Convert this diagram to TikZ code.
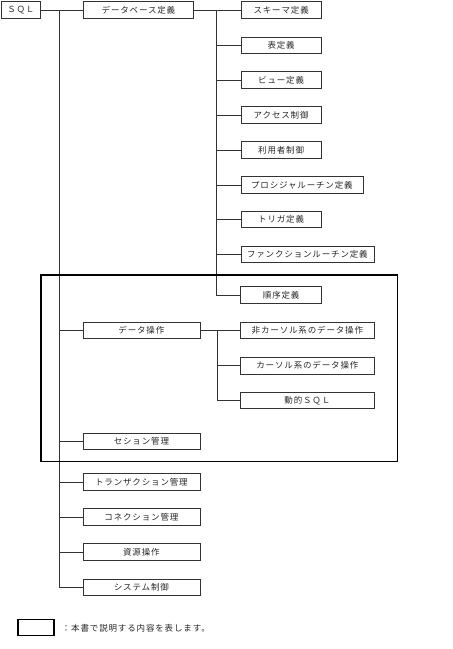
\documentclass[tikz,border=0pt]{standalone}
\usepackage{fontspec}
\newfontfamily\jp[LetterSpace=10]{Noto Sans CJK JP}
\begin{document}
\begin{tikzpicture}[x=1pt,y=-1pt,
  box/.style={draw=black!80, line width=0.8pt, anchor=west, minimum height=16.5pt, inner sep=0pt, font=\jp\fontsize{8.5}{10}\selectfont, text=black!85},
  conn/.style={draw=black!80, line width=0.8pt},
  frame/.style={draw=black, line width=1.3pt}]
\useasboundingbox (0,0) rectangle (453,649);
% root and level 1
\node[box, minimum width=39pt] (sql) at (1,10) {ＳＱＬ};
\node[box, minimum width=110.5pt] (db) at (82.8,10) {データベース定義};
\node[box, minimum width=117pt] (dop) at (82.5,330.5) {データ操作};
\node[box, minimum width=117pt] (ses) at (82.5,441.5) {セション管理};
\node[box, minimum width=117pt] (trn) at (82.5,482) {トランザクション管理};
\node[box, minimum width=117pt] (con) at (82.5,517) {コネクション管理};
\node[box, minimum width=117pt] (res) at (82.5,552) {資源操作};
\node[box, minimum width=117pt] (sys) at (82.5,587.5) {システム制御};
% database definition children
\node[box, minimum width=80.5pt] (sch) at (240.5,10) {スキーマ定義};
\node[box, minimum width=80.5pt] (tbl) at (240.5,45.5) {表定義};
\node[box, minimum width=80.5pt] (vw) at (240.5,80) {ビュー定義};
\node[box, minimum width=80.5pt] (acc) at (240.5,115) {アクセス制御};
\node[box, minimum width=80.5pt] (usr) at (240.5,150) {利用者制御};
\node[box, minimum width=122pt] (prc) at (240.5,185) {プロシジャルーチン定義};
\node[box, minimum width=80.5pt] (trg) at (240.5,219.5) {トリガ定義};
\node[box, minimum width=133pt] (fnc) at (240.5,254.5) {ファンクションルーチン定義};
\node[box, minimum width=81pt] (seq) at (240.3,295) {順序定義};
% data operation children
\node[box, minimum width=134pt] (ncur) at (240,330.5) {非カーソル系のデータ操作};
\node[box, minimum width=134pt] (cur) at (240,365.7) {カーソル系のデータ操作};
\node[box, minimum width=134pt] (dyn) at (240,400.3) {動的ＳＱＬ};
% trunks
\coordinate (t1) at (59.3,10);
\coordinate (t2) at (216.8,10);
\coordinate (t3) at (217.3,330.5);
\draw[conn] (sql.east) -- (db.west);
\foreach \n in {dop,ses,trn,con,res,sys} \draw[conn] (t1) |- (\n.west);
\draw[conn] (db.east) -- (sch.west);
\foreach \n in {tbl,vw,acc,usr,prc,trg,fnc,seq} \draw[conn] (t2) |- (\n.west);
\draw[conn] (dop.east) -- (ncur.west);
\foreach \n in {cur,dyn} \draw[conn] (t3) |- (\n.west);
% scope frame
\draw[frame] (41,275) rectangle (397.3,461.3);
% legend
\node[frame, anchor=west, minimum width=36pt, minimum height=16.5pt, inner sep=0pt] (leg) at (17.3,627.5) {};
\node[anchor=west, inner sep=0pt, font=\jp\fontsize{8.5}{10}\selectfont, text=black!85] (legt) at (61.7,628) {：本書で説明する内容を表します。};
\end{tikzpicture}
\end{document}
